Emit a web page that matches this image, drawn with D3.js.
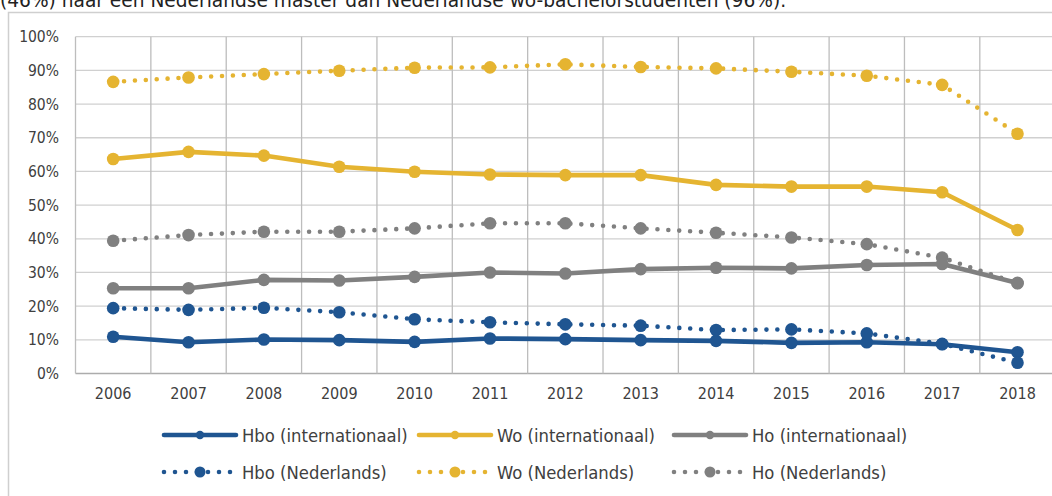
<!DOCTYPE html>
<html>
<head>
<meta charset="utf-8">
<script src="https://cdn.jsdelivr.net/npm/d3@7"></script>
<style>
  html, body { margin: 0; padding: 0; background: #fff; }
  svg { display: block; }
  text { font-family: "DejaVu Sans Condensed", "DejaVu Sans", sans-serif; fill: #404040; }
</style>
</head>
<body>
<svg id="chart" width="1052" height="496"></svg>
<script>
const years = ["2006","2007","2008","2009","2010","2011","2012","2013","2014","2015","2016","2017","2018"];
const yTicks = [0,10,20,30,40,50,60,70,80,90,100];

const hboInt = [10.9, 9.3, 10.1, 9.9, 9.4, 10.4, 10.2, 9.9, 9.7, 9.1, 9.3, 8.7, 6.3];
const woInt  = [63.7, 65.8, 64.7, 61.4, 59.9, 59.1, 58.9, 58.9, 56.0, 55.5, 55.5, 53.8, 42.6];
const hoInt  = [25.3, 25.3, 27.8, 27.6, 28.7, 30.0, 29.7, 31.0, 31.4, 31.2, 32.2, 32.5, 26.9];
const hboNl  = [19.4, 18.9, 19.5, 18.2, 16.1, 15.2, 14.6, 14.2, 12.9, 13.1, 11.9, 8.8, 3.2];
const woNl   = [86.6, 87.9, 88.9, 89.9, 90.8, 90.9, 91.8, 91.0, 90.6, 89.6, 88.4, 85.7, 71.2];
const hoNl   = [39.4, 41.1, 42.1, 42.1, 43.1, 44.6, 44.6, 43.1, 41.8, 40.4, 38.4, 34.4, 26.8];

const seriesNames = ["Hbo (internationaal)", "Wo (internationaal)", "Ho (internationaal)",
                     "Hbo (Nederlands)", "Wo (Nederlands)", "Ho (Nederlands)"];
const titleText = "(46%) naar een Nederlandse master dan Nederlandse wo-bachelorstudenten (96%).";

const BLUE = "#1f5591", YELLOW = "#e5b431", GREY = "#808080";
const series = [
  {name: seriesNames[0], values: hboInt, color: BLUE,   dotted: false},
  {name: seriesNames[1], values: woInt,  color: YELLOW, dotted: false},
  {name: seriesNames[2], values: hoInt,  color: GREY,   dotted: false},
  {name: seriesNames[3], values: hboNl,  color: BLUE,   dotted: true},
  {name: seriesNames[4], values: woNl,   color: YELLOW, dotted: true},
  {name: seriesNames[5], values: hoNl,   color: GREY,   dotted: true}
];

const svg = d3.select("#chart");

// partially visible caption text at top (cut off in the reference as well)
svg.append("text").attr("x", 0).attr("y", 7)
  .attr("font-size", 18.6).style("font-family", "DejaVu Sans, sans-serif").style("fill", "#222")
  .text(titleText);

// outer frame
svg.append("rect").attr("x", 8.5).attr("y", 12.5).attr("width", 1100).attr("height", 600)
  .attr("fill", "none").attr("stroke", "#cfcfcf").attr("stroke-width", 1.5);

const left = 75.5, bw = 75.36;
const x = d3.scaleBand().domain(years).range([left, left + bw * years.length]).padding(0);
const y = d3.scaleLinear().domain([0, 100]).range([373.5, 36.7]);
const cx = d => x(d) + x.bandwidth() / 2;

const grid = svg.append("g");
grid.selectAll("line.h").data(yTicks).join("line")
  .attr("x1", left).attr("x2", 1052).attr("y1", d => y(d)).attr("y2", d => y(d))
  .attr("stroke", d => d === 0 ? "#acacac" : "#d0d0d0").attr("stroke-width", 1.3);
grid.selectAll("line.v").data(years).join("line")
  .attr("x1", d => x(d)).attr("x2", d => x(d)).attr("y1", y(100)).attr("y2", y(0))
  .attr("stroke", "#bdbdbd").attr("stroke-width", 1.3);

// axes via d3 axis generators
const yAxis = d3.axisLeft(y).tickValues(yTicks).tickFormat(d => d + "%").tickSize(0).tickPadding(0);
const yg = svg.append("g").attr("transform", "translate(59,0)").call(yAxis);
yg.select(".domain").remove();
yg.selectAll("text").attr("font-size", 15.5).style("font-family", "DejaVu Sans Condensed, sans-serif").style("fill", "#404040");

const xAxis = d3.axisBottom(x).tickSize(0).tickPadding(0);
const xg = svg.append("g").attr("transform", "translate(0,388)").call(xAxis);
xg.select(".domain").remove();
xg.selectAll("text").attr("font-size", 16).style("font-family", "DejaVu Sans Condensed, sans-serif").style("fill", "#404040");

const line = d3.line().x((d, i) => cx(years[i])).y(d => y(d));

const plot = svg.append("g");
series.forEach(s => {
  const g = plot.append("g");
  g.append("path").datum(s.values).attr("d", line)
    .attr("fill", "none").attr("stroke", s.color).attr("stroke-width", 4.6)
    .attr("stroke-linecap", "round").attr("stroke-linejoin", "round")
    .attr("stroke-dasharray", s.dotted ? "0 10.9" : null);
  g.selectAll("circle").data(s.values).join("circle")
    .attr("cx", (d, i) => cx(years[i])).attr("cy", d => y(d))
    .attr("r", 6.3).attr("fill", s.color);
});

// legend
const legX = [164, 419, 674];
const legY = [435, 472];
series.forEach((s, i) => {
  const lx = legX[i % 3], ly = legY[Math.floor(i / 3)];
  const g = svg.append("g");
  g.append("line").attr("x1", lx).attr("x2", lx + 72).attr("y1", ly).attr("y2", ly)
    .attr("stroke", s.color).attr("stroke-width", 4.6).attr("stroke-linecap", "round")
    .attr("stroke-dasharray", s.dotted ? "0 11" : null);
  g.append("circle").attr("cx", lx + 36).attr("cy", ly).attr("r", s.dotted ? 5.5 : 4.2).attr("fill", s.color);
  g.append("text").attr("x", lx + 78).attr("y", ly).attr("dy", "0.36em")
    .attr("font-size", 18.3).text(s.name);
});
</script>
</body>
</html>
